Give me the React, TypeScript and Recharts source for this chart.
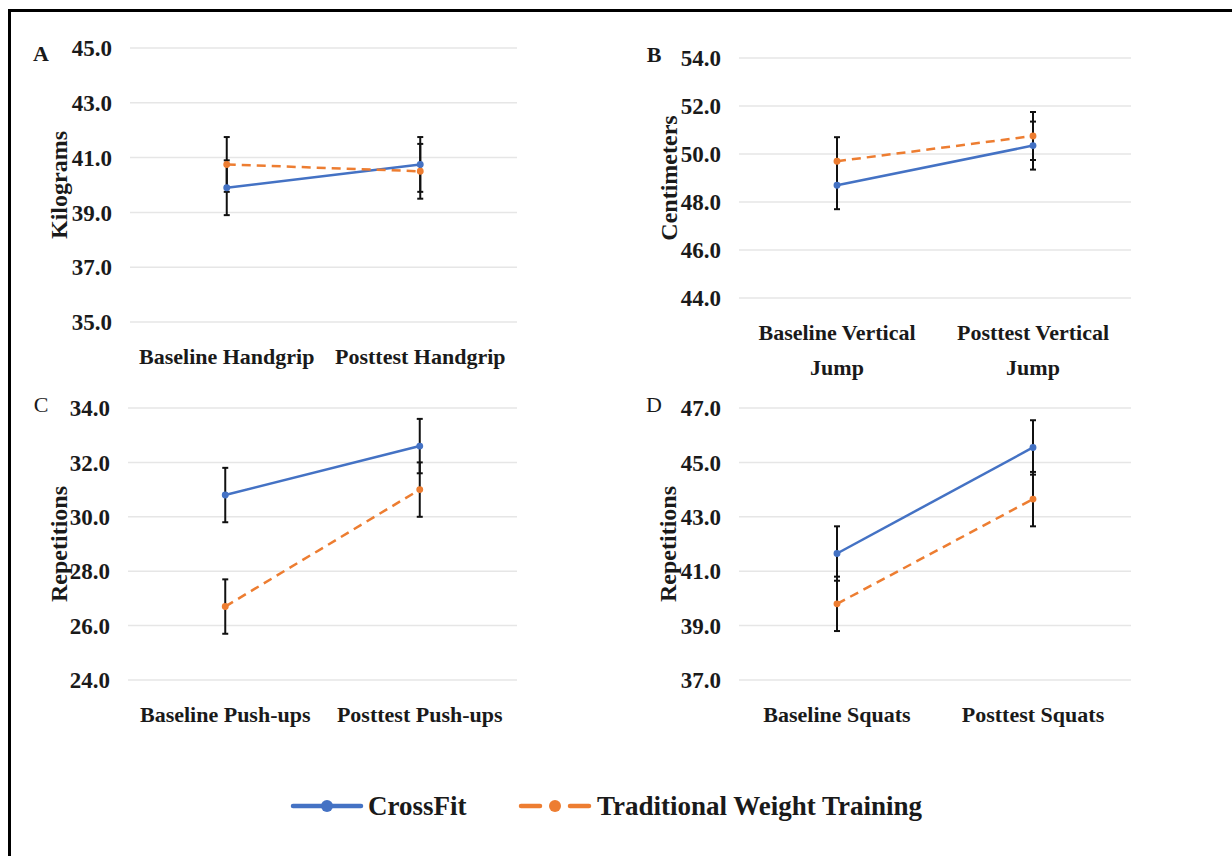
import React from 'react';
import { LineChart, Line, XAxis, YAxis, CartesianGrid, ErrorBar } from 'recharts';

const BLUE = '#4472C4';
const ORANGE = '#ED7D31';
const FONT = 'Liberation Serif, DejaVu Serif, Times New Roman, serif';
const INK = '#1a1a1a';

// A - handgrip (kg)
const handgripCats = ['Baseline Handgrip', 'Posttest Handgrip'];
const handgripCrossFit = [39.9, 40.75];
const handgripCrossFitErr = [1.0, 1.0];
const handgripTraditional = [40.75, 40.5];
const handgripTraditionalErr = [1.0, 1.0];
const handgripTicks = [35, 37, 39, 41, 43, 45];

// B - vertical jump (cm)
const jumpCats = ['Baseline Vertical Jump', 'Posttest Vertical Jump'];
const jumpCrossFit = [48.7, 50.35];
const jumpCrossFitErr = [1.0, 1.0];
const jumpTraditional = [49.7, 50.75];
const jumpTraditionalErr = [1.0, 1.0];
const jumpTicks = [44, 46, 48, 50, 52, 54];

// C - push-ups (reps)
const pushupCats = ['Baseline Push-ups', 'Posttest Push-ups'];
const pushupCrossFit = [30.8, 32.6];
const pushupCrossFitErr = [1.0, 1.0];
const pushupTraditional = [26.7, 31.0];
const pushupTraditionalErr = [1.0, 1.0];
const pushupTicks = [24, 26, 28, 30, 32, 34];

// D - squats (reps)
const squatCats = ['Baseline Squats', 'Posttest Squats'];
const squatCrossFit = [41.65, 45.55];
const squatCrossFitErr = [1.0, 1.0];
const squatTraditional = [39.8, 43.65];
const squatTraditionalErr = [1.0, 1.0];
const squatTicks = [37, 39, 41, 43, 45, 47];

const seriesNames = ['CrossFit', 'Traditional Weight Training'];

function makeRows(cats: string[], cf: number[], cfErr: number[], tw: number[], twErr: number[]) {
  return cats.map((name, i) => ({ name, cf: cf[i], cfErr: cfErr[i], tw: tw[i], twErr: twErr[i] }));
}

function CatTick(props: any) {
  const { x, y, payload } = props;
  const text: string = String(payload.value);
  let lines = [text];
  if (text.length > 18) {
    const k = text.lastIndexOf(' ');
    lines = [text.slice(0, k), text.slice(k + 1)];
  }
  return (
    <text x={x} y={y} textAnchor="middle" style={{ fontFamily: FONT }} fontWeight="bold" fontSize={22} fill={INK}>
      {lines.map((l, i) => (
        <tspan key={i} x={x} dy={i === 0 ? 16 : 35}>{l}</tspan>
      ))}
    </text>
  );
}

type Box = { left: number; top: number; width: number; height: number };
type Plot = { left: number; top: number; right: number; bottom: number };

function Panel({ box, plot, rows, ticks }: { box: Box; plot: Plot; rows: any[]; ticks: number[] }) {
  const yw = 80;
  const xh = 60;
  const margin = {
    top: plot.top - box.top,
    right: box.left + box.width - plot.right,
    left: plot.left - box.left - yw,
    bottom: box.top + box.height - plot.bottom - xh,
  };
  return (
    <div style={{ position: 'absolute', left: box.left, top: box.top }}>
      <LineChart width={box.width} height={box.height} data={rows} margin={margin} style={{ fontFamily: FONT }}>
        <CartesianGrid vertical={false} stroke="#e6e6e6" strokeWidth={1.5} />
        <XAxis dataKey="name" scale="band" axisLine={false} tickLine={false} height={xh}
          tickMargin={20} tick={<CatTick />} interval={0} />
        <YAxis width={yw} type="number" domain={[ticks[0], ticks[ticks.length - 1]]} ticks={ticks}
          allowDataOverflow axisLine={false} tickLine={false} tickMargin={12} interval={0}
          tickFormatter={(v: number) => v.toFixed(1)}
          tick={{ fontFamily: FONT, fontWeight: 'bold', fontSize: 23, fill: INK }} />
        <Line dataKey="cf" name={seriesNames[0]} stroke={BLUE} strokeWidth={2.5}
          dot={{ r: 2.2, fill: BLUE, stroke: BLUE }} activeDot={false} isAnimationActive={false}>
          <ErrorBar dataKey="cfErr" width={3} strokeWidth={2} stroke="#111" direction="y" />
        </Line>
        <Line dataKey="tw" name={seriesNames[1]} stroke={ORANGE} strokeWidth={2.5} strokeDasharray="9 6"
          dot={{ r: 2.2, fill: ORANGE, stroke: ORANGE, strokeDasharray: '0' }} activeDot={false} isAnimationActive={false}>
          <ErrorBar dataKey="twErr" width={3} strokeWidth={2} stroke="#111" direction="y" />
        </Line>
      </LineChart>
    </div>
  );
}

function YTitle({ x, y, text }: { x: number; y: number; text: string }) {
  return (
    <div style={{
      position: 'absolute', left: x, top: y, transform: 'translate(-50%, -50%) rotate(-90deg)',
      whiteSpace: 'nowrap', fontFamily: FONT, fontWeight: 'bold', fontSize: 24, color: INK, lineHeight: 1,
    }}>{text}</div>
  );
}

function Letter({ x, y, text, bold }: { x: number; y: number; text: string; bold: boolean }) {
  return (
    <div style={{
      position: 'absolute', left: x, top: y, transform: 'translate(-50%, -50%)',
      fontFamily: FONT, fontWeight: bold ? 'bold' : 'normal', fontSize: 22, color: INK, lineHeight: 1,
    }}>{text}</div>
  );
}

export default function App() {
  const rowsA = makeRows(handgripCats, handgripCrossFit, handgripCrossFitErr, handgripTraditional, handgripTraditionalErr);
  const rowsB = makeRows(jumpCats, jumpCrossFit, jumpCrossFitErr, jumpTraditional, jumpTraditionalErr);
  const rowsC = makeRows(pushupCats, pushupCrossFit, pushupCrossFitErr, pushupTraditional, pushupTraditionalErr);
  const rowsD = makeRows(squatCats, squatCrossFit, squatCrossFitErr, squatTraditional, squatTraditionalErr);

  return (
    <div style={{ position: 'absolute', left: 0, top: 0, width: 1232, height: 856, background: '#fff', overflow: 'hidden', fontFamily: FONT }}>
      <div style={{ position: 'absolute', left: 8, top: 9, width: 1240, height: 860, borderTop: '3px solid #000', borderLeft: '3px solid #000' }} />

      <Panel box={{ left: 0, top: 0, width: 616, height: 390 }} plot={{ left: 130, top: 48, right: 517, bottom: 322 }} rows={rowsA} ticks={handgripTicks} />
      <Panel box={{ left: 616, top: 0, width: 616, height: 390 }} plot={{ left: 739, top: 58, right: 1131, bottom: 298 }} rows={rowsB} ticks={jumpTicks} />
      <Panel box={{ left: 0, top: 390, width: 616, height: 370 }} plot={{ left: 128, top: 408, right: 517, bottom: 680 }} rows={rowsC} ticks={pushupTicks} />
      <Panel box={{ left: 616, top: 390, width: 616, height: 370 }} plot={{ left: 739, top: 408, right: 1131, bottom: 680 }} rows={rowsD} ticks={squatTicks} />

      <YTitle x={59} y={185} text="Kilograms" />
      <YTitle x={669} y={178} text="Centimeters" />
      <YTitle x={59} y={544} text="Repetitions" />
      <YTitle x={668} y={544} text="Repetitions" />

      <Letter x={41} y={54} text="A" bold />
      <Letter x={654} y={55} text="B" bold />
      <Letter x={41} y={405} text="C" bold={false} />
      <Letter x={654} y={405} text="D" bold={false} />

      <svg style={{ position: 'absolute', left: 0, top: 0, fontFamily: FONT }} width={1232} height={856}>
        <line x1={293} y1={806} x2={361} y2={806} stroke={BLUE} strokeWidth={4.5} strokeLinecap="round" />
        <circle cx={327} cy={806} r={6} fill={BLUE} />
        <text x={368} y={815} style={{ fontFamily: FONT }} fontWeight="bold" fontSize={27} fill={INK}>{seriesNames[0]}</text>
        <line x1={521} y1={806} x2={540} y2={806} stroke={ORANGE} strokeWidth={4.5} strokeLinecap="round" />
        <line x1={570} y1={806} x2={589} y2={806} stroke={ORANGE} strokeWidth={4.5} strokeLinecap="round" />
        <circle cx={555} cy={806} r={6} fill={ORANGE} />
        <text x={597} y={815} style={{ fontFamily: FONT }} fontWeight="bold" fontSize={27} fill={INK}>{seriesNames[1]}</text>
      </svg>
    </div>
  );
}
